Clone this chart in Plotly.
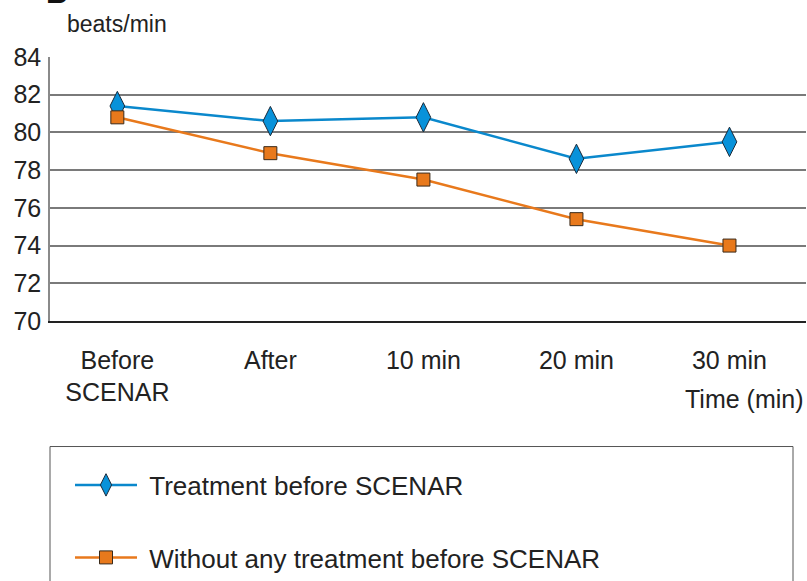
import plotly.graph_objects as go

categories = ["Before<br>SCENAR", "After", "10 min", "20 min", "30 min"]
treatment = [81.4, 80.6, 80.8, 78.6, 79.5]
no_treatment = [80.8, 78.9, 77.5, 75.4, 74.0]
y_ticks = [70, 72, 74, 76, 78, 80, 82, 84]
series_names = ["Treatment before SCENAR", "Without any treatment before SCENAR"]

W, H = 807, 581
L, R, T, B = 50, 1, 57, 259
PW, PH = W - L - R, H - T - B

def px(x):
    return (x - L) / PW

def py(y):
    return (H - B - y) / PH

FONT = "Liberation Sans, Arial, sans-serif"
FS = 25
BLUE = "#0a88cc"
BLUE_M = "#0892da"
ORANGE = "#e8791c"
NB = "\u00a0"

xs = list(range(len(categories)))

fig = go.Figure()
fig.add_trace(go.Scatter(
    x=xs, y=treatment, mode="lines+markers", name=NB + series_names[0],
    line=dict(color=BLUE, width=2.5),
    marker=dict(symbol="diamond-tall", size=21, color=BLUE_M,
                line=dict(color="#1a2a3a", width=1)),
    legend="legend", showlegend=True,
))
fig.add_trace(go.Scatter(
    x=xs, y=no_treatment, mode="lines+markers", name=NB + series_names[1],
    line=dict(color=ORANGE, width=2.5),
    marker=dict(symbol="square", size=13, color=ORANGE,
                line=dict(color="#3a2a1a", width=1)),
    legend="legend2", showlegend=True,
))

fig.add_shape(type="rect", xref="paper", yref="paper",
              x0=px(50), x1=px(793), y0=py(448), y1=py(600),
              line=dict(color="#555555", width=1), fillcolor="rgba(0,0,0,0)")

fig.add_annotation(text="beats/min", xref="paper", yref="paper",
                   x=px(65), y=py(24), xanchor="left", yanchor="middle",
                   showarrow=False, font=dict(family=FONT, size=23, color="#222222"))
fig.add_annotation(text="Time (min)", xref="paper", yref="paper",
                   x=px(806), y=py(400), xanchor="right", yanchor="middle",
                   showarrow=False, font=dict(family=FONT, size=FS, color="#222222"))
fig.add_annotation(text="<b>B</b>", xref="paper", yref="paper",
                   x=px(57), y=py(-8), xanchor="center", yanchor="middle",
                   showarrow=False, font=dict(family=FONT, size=30, color="#111111"))

fig.update_layout(
    width=W, height=H,
    margin=dict(l=L, r=R, t=T, b=B, pad=0),
    paper_bgcolor="white", plot_bgcolor="white",
    showlegend=True,
    font=dict(family=FONT, size=FS, color="#222222"),
    xaxis=dict(
        range=[-0.44, 4.5], tickmode="array", tickvals=xs, ticktext=categories,
        showgrid=False, zeroline=False, showline=True, linecolor="#222222", linewidth=1.5,
        ticks="", ticklabelstandoff=16, tickfont=dict(family=FONT, size=FS, color="#222222"),
        fixedrange=True,
    ),
    yaxis=dict(
        range=[70, 84], tickmode="array", tickvals=y_ticks,
        showgrid=True, gridcolor="#7a7a7a", gridwidth=1.5,
        zeroline=False, showline=True, linecolor="#8a8a8a", linewidth=1.5,
        ticks="", ticklabelstandoff=2, tickfont=dict(family=FONT, size=FS, color="#222222"),
        fixedrange=True,
    ),
    legend=dict(x=px(70), y=py(485), xanchor="left", yanchor="middle",
                bgcolor="rgba(0,0,0,0)", borderwidth=0, itemwidth=62,
                font=dict(family=FONT, size=26, color="#222222")),
    legend2=dict(x=px(70), y=py(558), xanchor="left", yanchor="middle",
                 bgcolor="rgba(0,0,0,0)", borderwidth=0, itemwidth=62,
                 font=dict(family=FONT, size=26, color="#222222")),
)

fig.write_html("out.html", config={"displayModeBar": False},
               post_script="document.body.style.margin='0px';")
